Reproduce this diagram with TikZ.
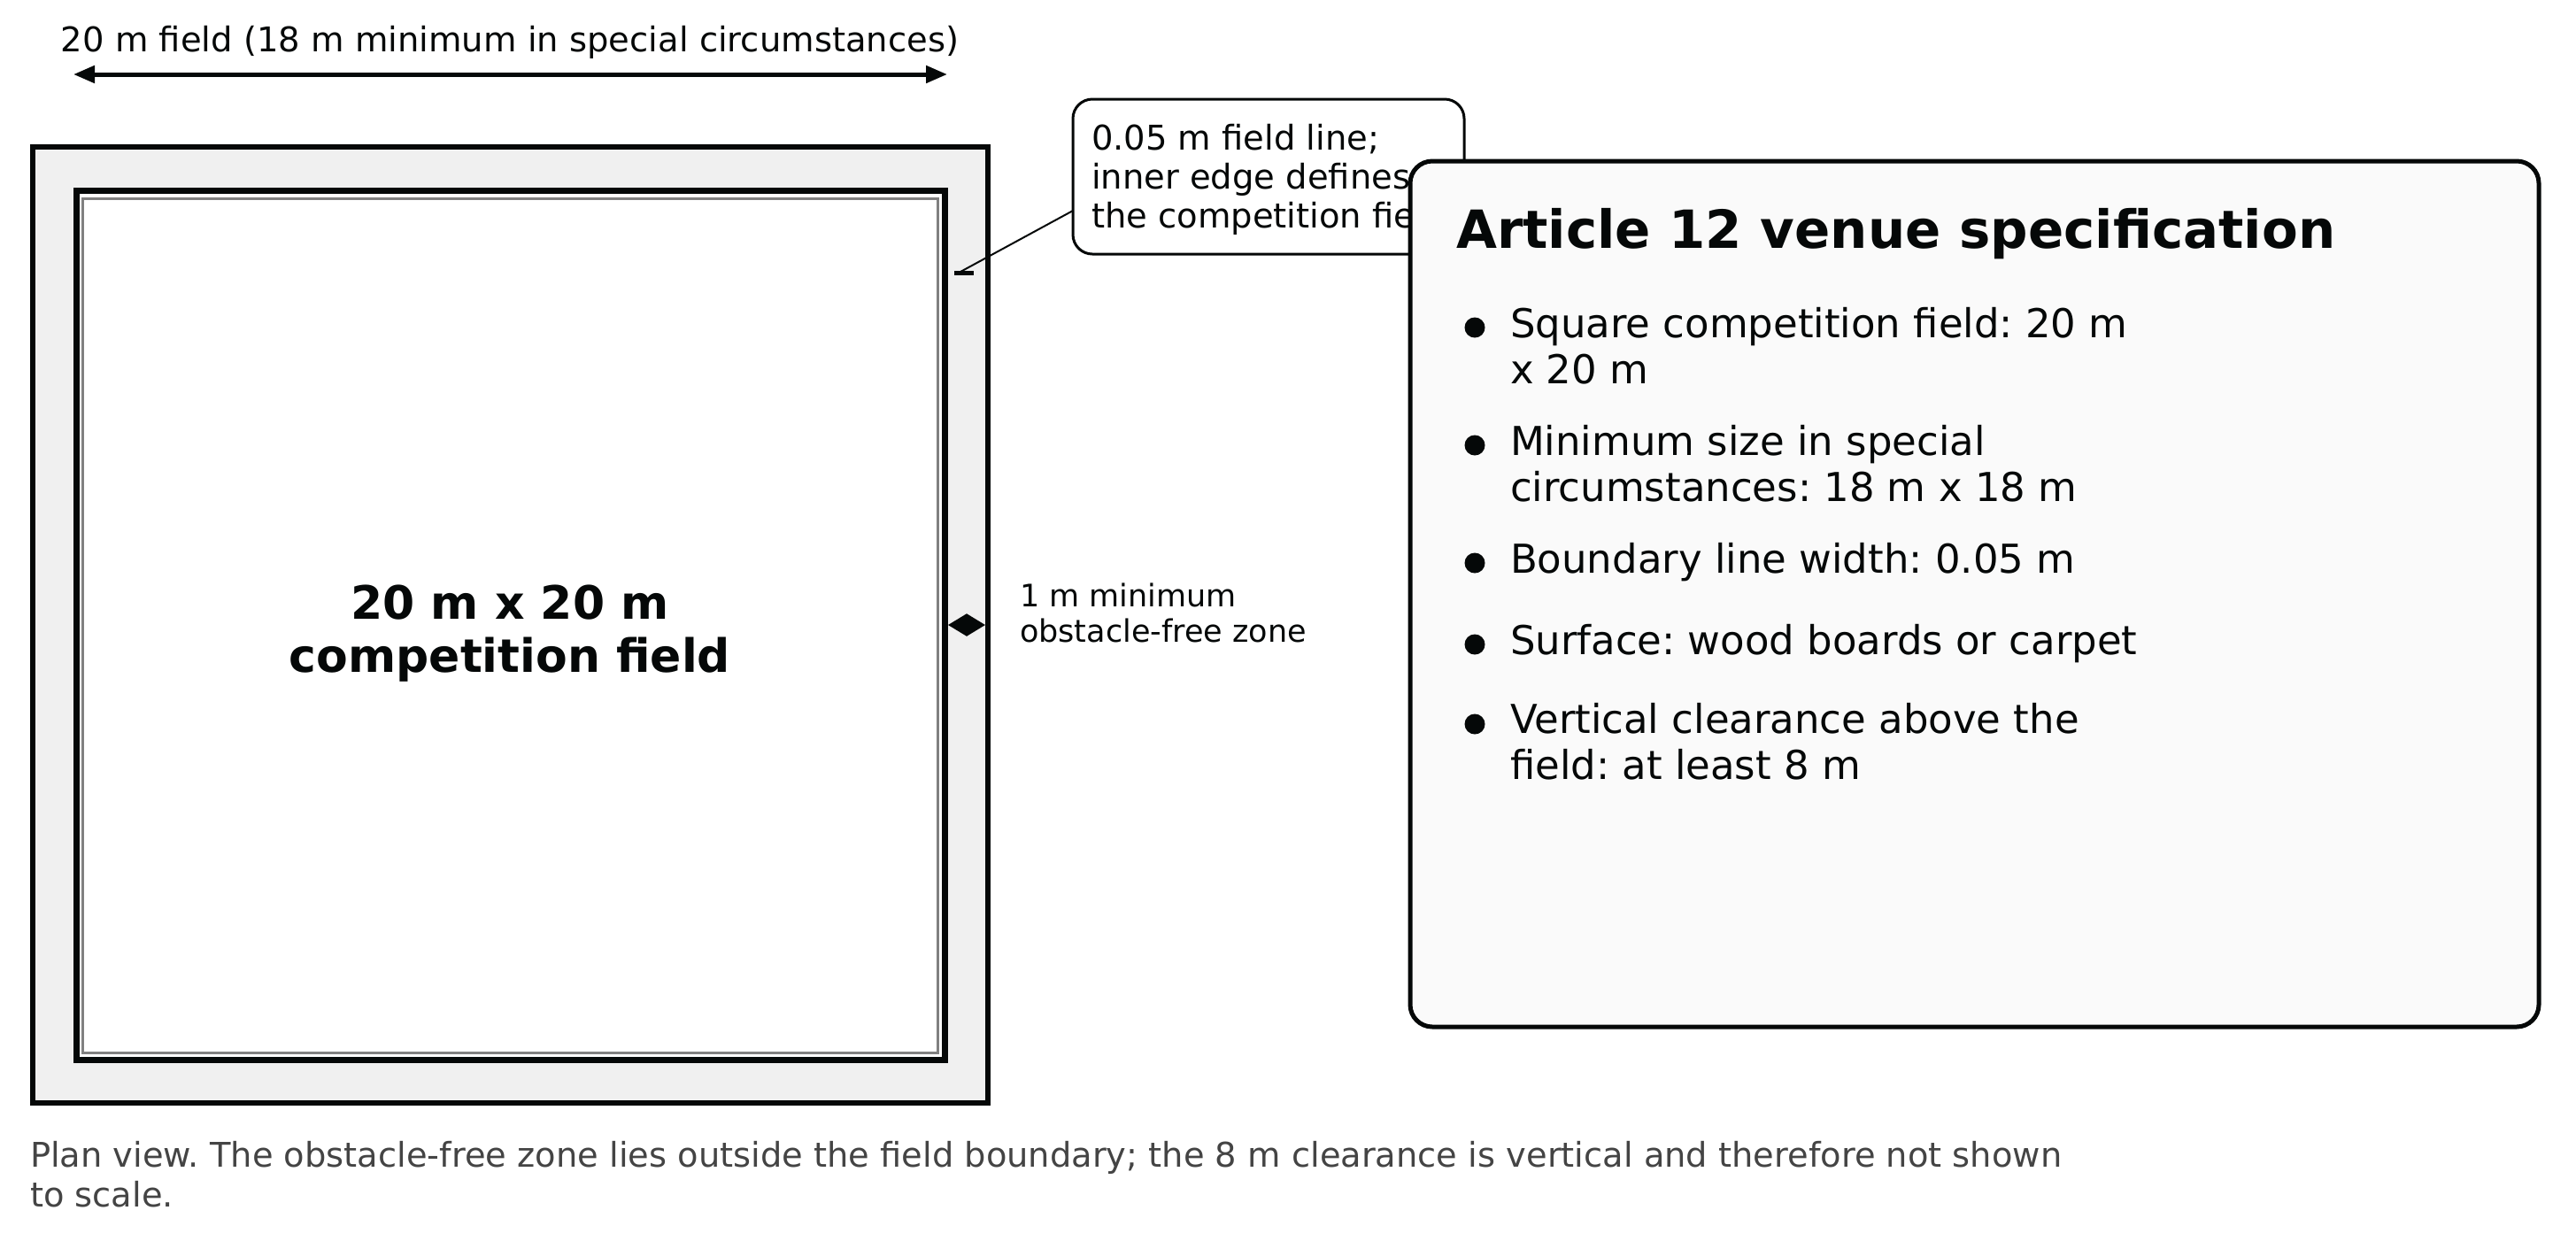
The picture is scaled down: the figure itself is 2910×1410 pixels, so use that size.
\documentclass[tikz,border=0pt]{standalone}
\usepackage{fontspec}
\setmainfont{DejaVu Sans}
\usetikzlibrary{arrows.meta}
\definecolor{zonegray}{HTML}{F0F0F0}
\definecolor{panelfill}{HTML}{FAFAFA}
\definecolor{linegray}{HTML}{808080}
\definecolor{captiongray}{HTML}{444444}
\definecolor{inkblack}{HTML}{050808}
\begin{document}
\frenchspacing
\begin{tikzpicture}[x=0.5pt,y=-0.5pt,
  txt/.style={inner sep=0pt, outer sep=0pt, text=inkblack},
  topfont/.style={font=\frenchspacing\fontsize{19.25pt}{22pt}\selectfont},
  notefont/.style={font=\frenchspacing\fontsize{17.5pt}{20pt}\selectfont},
  itemfont/.style={font=\frenchspacing\fontsize{22.5pt}{26pt}\selectfont},
  bullet/.style={circle, fill=inkblack, inner sep=0pt, minimum size=11.5pt},
  dimarrow/.style={inkblack, line width=2.5pt, {Triangle[length=12pt,width=9.5pt]}-{Triangle[length=12pt,width=9.5pt]}},
  zonearrow/.style={inkblack, line width=1pt, {Triangle[length=10.5pt,width=12.5pt]}-{Triangle[length=10.5pt,width=12.5pt]}},
]
\useasboundingbox (0,0) rectangle (2910,1410);
\fill[white] (0,0) rectangle (2910,1410);

% obstacle-free zone
\draw[inkblack, line width=3pt, fill=zonegray] (37,165.5) rectangle (1116,1246);
% field boundary line
\draw[inkblack, line width=3.5pt, fill=white] (86,215) rectangle (1067.5,1197);
\draw[linegray, line width=1.5pt] (93.5,224.5) rectangle (1059,1189);

\node[txt, align=center, font=\bfseries\fontsize{26pt}{30pt}\selectfont] (fieldlabel) at (576,716) {20 m x 20 m\\competition field};

% top dimension
\node[txt, topfont, anchor=base] (toplabel) at (576,58) {20 m field (18 m minimum in special circumstances)};
\coordinate (dimL) at (83,84);
\coordinate (dimR) at (1070,84);
\draw[dimarrow] (dimL) -- (dimR);

% zone dimension
\coordinate (zoneL) at (1071,706);
\coordinate (zoneR) at (1113,706);
\draw[zonearrow] (zoneL) -- (zoneR);
\node[txt, notefont, align=left, anchor=base west] (zonelabel) at (1152,725) {1 m minimum\\obstacle-free zone};

% callout
\draw[inkblack, line width=1.5pt, fill=white, rounded corners=11pt] (1212,112) rectangle (1654,287);
\node[txt, topfont, align=left, anchor=base west] (callout) at (1233,257) {0.05 m field line;\\inner edge defines\\the competition field};
\coordinate (leadA) at (1212,238);
\coordinate (leadB) at (1085,307);
\draw[inkblack, line width=1pt] (leadA) -- (leadB);
\coordinate (tickL) at (1078,308);
\coordinate (tickR) at (1100,308);
\draw[inkblack, line width=2.5pt] (tickL) -- (tickR);

% specification panel
\draw[inkblack, line width=2.5pt, fill=panelfill, rounded corners=12.5pt] (1593,182) rectangle (2868,1160);
\node[txt, anchor=base west, font=\bfseries\fontsize{29.7pt}{36pt}\selectfont] (title) at (1645,280) {Article 12 venue specification};

\node[bullet] (b1) at (1666,370) {};
\node[txt, itemfont, align=left, anchor=base west] (i1) at (1706,433) {Square competition field: 20 m\\x 20 m};
\node[bullet] (b2) at (1666,503) {};
\node[txt, itemfont, align=left, anchor=base west] (i2) at (1706,566) {Minimum size in special\\circumstances: 18 m x 18 m};
\node[bullet] (b3) at (1666,636) {};
\node[txt, itemfont, anchor=base west] (i3) at (1706,647) {Boundary line width: 0.05 m};
\node[bullet] (b4) at (1666,728) {};
\node[txt, itemfont, anchor=base west] (i4) at (1706,739) {Surface: wood boards or carpet};
\node[bullet] (b5) at (1666,818) {};
\node[txt, itemfont, align=left, anchor=base west] (i5) at (1706,880) {Vertical clearance above the\\field: at least 8 m};

% caption
\node[txt, text=captiongray, align=left, anchor=base west, font=\fontsize{19.2pt}{22.5pt}\selectfont] (caption) at (34,1363) {Plan view. The obstacle-free zone lies outside the field boundary; the 8 m clearance is vertical and therefore not shown\\to scale.};
\end{tikzpicture}
\end{document}
